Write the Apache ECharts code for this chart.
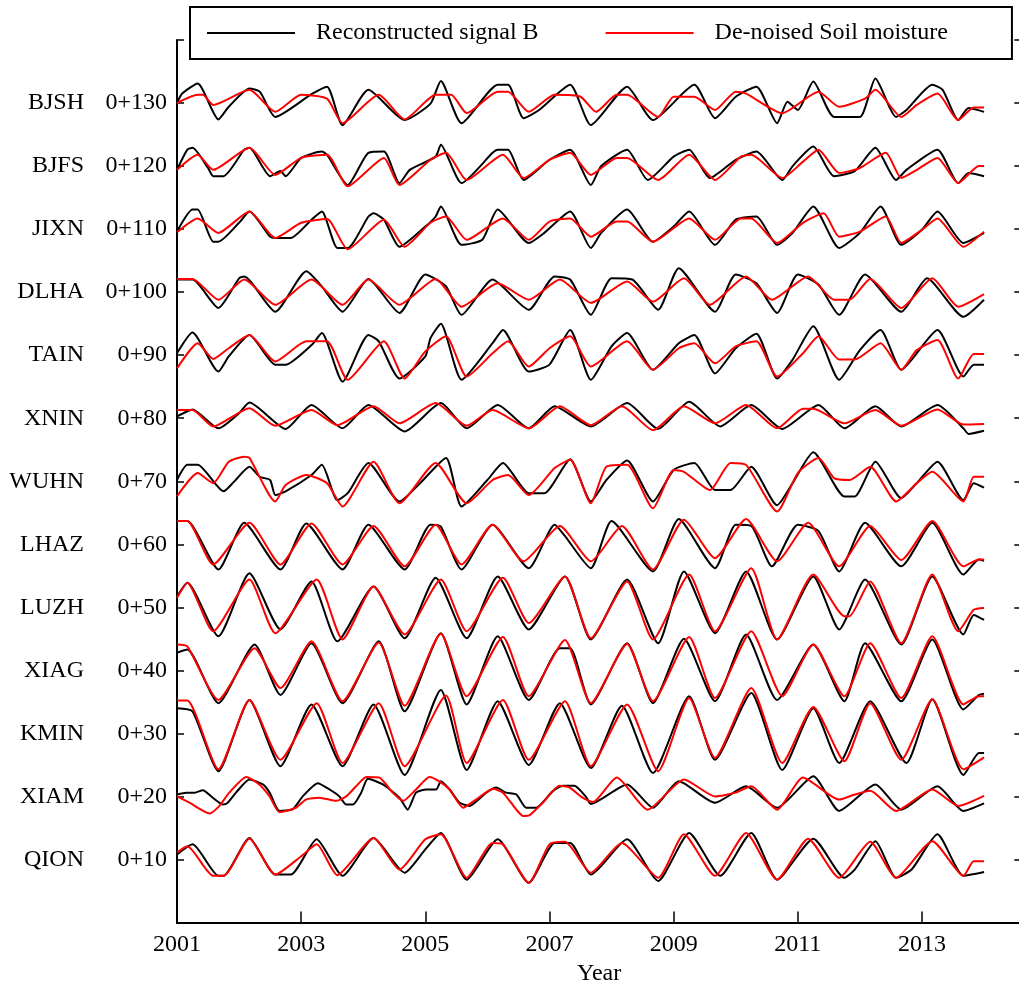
<!DOCTYPE html>
<html>
<head>
<meta charset="utf-8">
<script src="https://cdn.jsdelivr.net/npm/echarts@6/dist/echarts.min.js"></script>
<style>
  html, body { margin: 0; padding: 0; background: #fff; }
  #chart { width: 1019px; height: 984px; }
</style>
</head>
<body>
<div id="chart"></div>
<script>
// station names (top to bottom) and their vertical offsets
const stations = ['BJSH', 'BJFS', 'JIXN', 'DLHA', 'TAIN', 'XNIN', 'WUHN', 'LHAZ', 'LUZH', 'XIAG', 'KMIN', 'XIAM', 'QION'];
const offsets = [130, 120, 110, 100, 90, 80, 70, 60, 50, 40, 30, 20, 10];
const startYear = 2001;

// [month since Jan 2001, value without offset]
// B = Reconstructed signal B, R = De-noised Soil moisture
const bjshB = [[0,0],[1,1.5],[4,3.1],[8,-2.6],[10,-0.6],[14,2.3],[16,1.8],[19,-2.2],[26,1.4],[29,2.6],[32,-3.5],[37,2.1],[44,-2.7],[49,-0.1],[51,3.5],[55,-3.2],[62,2.9],[64,2.9],[67,-2.4],[70,-1.1],[76,2.9],[80,-3.5],[87,2.6],[92,-2.7],[100,2.9],[104,-2.4],[108,1.0],[112,2.6],[116,-3.2],[118,0.2],[120,-1.1],[123,3.4],[127,-2.2],[132,-2.2],[135,3.9],[139,-2.2],[141,-1.1],[146,2.9],[148,2.1],[151,-2.7],[153,-0.8],[156,-1.4]];
const bjshR = [[0,0],[4,1.3],[5,1.3],[7,-0.3],[14,2.1],[19,-1.4],[24,1.3],[29,0.7],[32,-3.2],[39,1.3],[44,-2.6],[50,1.3],[53,1.3],[56,-1.6],[62,1.8],[64,1.8],[68,-1.4],[73,1.3],[78,1.0],[81,-1.4],[85,1.3],[87,1.3],[93,-2.2],[96,1.0],[100,1.0],[104,-1.1],[108,1.8],[110,1.5],[117,-1.6],[124,1.8],[128,-0.6],[133,0.7],[135,2.1],[140,-2.2],[143,-0.3],[147,1.5],[151,-2.7],[154,-0.7],[156,-0.7]];

const bjfsB = [[0,-0.6],[2,2.6],[3,2.9],[6,-0.3],[7,-1.6],[9,-1.6],[13,2.6],[14,2.9],[18,-1.6],[20,-0.8],[21,-1.6],[24,1.3],[28,2.3],[29,1.8],[33,-3.0],[37,2.1],[40,2.3],[43,-2.7],[45,-0.6],[50,1.5],[51,3.4],[55,-2.7],[61,2.1],[62,2.6],[64,2.6],[67,-2.2],[72,1.0],[76,2.6],[80,-3.0],[82,0],[87,2.6],[91,-2.2],[96,1.5],[99,2.6],[103,-1.9],[108,1.0],[112,2.3],[117,-2.2],[119,0],[123,3.1],[127,-1.6],[131,-0.8],[135,2.9],[139,-2.2],[141,-0.6],[147,2.6],[151,-2.7],[153,-1.1],[156,-1.6]];
const bjfsR = [[0,-0.6],[4,1.8],[7,-0.6],[14,2.9],[19,-1.4],[24,1.3],[29,1.8],[33,-3.2],[40,1.3],[43,-3.0],[49,1.0],[52,2.1],[56,-2.2],[63,1.8],[67,-1.9],[72,1.0],[76,2.1],[80,-1.4],[85,1.3],[87,1.3],[93,-2.2],[99,1.8],[104,-2.2],[109,1.5],[111,1.8],[117,-1.9],[121,0.7],[124,2.6],[128,-1.1],[132,-0.3],[137,2.1],[140,-1.9],[143,-0.6],[147,1.3],[151,-2.7],[155,0],[156,0]];

const jixnB = [[0,-0.4],[3,3.1],[4,3.1],[7,-2.0],[8,-2.0],[12,1.0],[14,2.8],[18,-1.2],[19,-1.4],[22,-1.4],[26,1.5],[28,2.8],[31,-3.0],[33,-3.0],[37,2.0],[38,2.5],[40,1.5],[43,-2.8],[48,0.4],[50,2.0],[51,3.6],[55,-2.5],[59,-1.7],[62,3.1],[68,-2.2],[71,-0.6],[76,2.8],[80,-3.0],[82,-0.6],[87,3.1],[92,-2.0],[96,0.4],[99,2.8],[104,-2.5],[108,1.5],[112,2.0],[116,-2.5],[119,-0.6],[123,3.6],[128,-3.0],[132,-0.6],[136,3.6],[140,-2.5],[144,-0.1],[147,2.8],[152,-2.2],[156,-0.6]];
const jixnR = [[0,-0.5],[4,1.7],[8,-0.6],[14,2.8],[19,-1.4],[24,1.0],[29,1.6],[33,-3.2],[40,1.5],[44,-2.8],[49,1.0],[52,2.0],[56,-1.7],[63,1.7],[68,-1.7],[72,1.2],[76,1.7],[80,-1.2],[85,1.2],[87,1.2],[92,-2.0],[99,1.7],[104,-1.7],[109,1.7],[111,1.7],[116,-2.2],[121,1.0],[125,2.5],[128,-1.2],[132,-0.4],[137,2.0],[140,-2.2],[144,-0.1],[147,1.7],[152,-2.8],[156,-0.4]];

const dlhaB = [[0,2.0],[3,2.0],[8,-2.5],[12,2.2],[13,2.5],[19,-3.1],[25,3.3],[28,0.9],[32,-3.1],[37,2.1],[43,-3.3],[48,2.8],[52,0.9],[55,-3.6],[61,2.0],[68,-2.8],[73,2.5],[76,2.0],[80,-3.6],[84,2.2],[88,2.0],[93,-2.8],[97,3.8],[104,-3.1],[108,2.8],[112,1.4],[116,-3.3],[120,2.8],[124,1.2],[128,-3.6],[133,2.8],[140,-3.1],[145,2.2],[152,-3.9],[156,-1.2]];
const dlhaR = [[0,2.1],[3,2.1],[8,-1.2],[13,2.0],[19,-2.0],[26,2.0],[32,-2.0],[37,2.0],[43,-2.0],[50,2.1],[55,-2.3],[62,1.4],[68,-1.2],[74,2.0],[80,-1.7],[87,1.7],[92,-1.5],[98,2.2],[103,-2.0],[110,2.5],[115,-1.2],[122,2.5],[127,-1.2],[130,-1.2],[134,2.1],[140,-2.5],[146,2.2],[151,-2.3],[156,-0.3]];

const tainB = [[0,0.3],[3,3.6],[8,-2.6],[10,-0.2],[14,3.2],[19,-1.5],[21,-1.5],[26,1.6],[28,3.5],[32,-4.2],[37,3.2],[39,2.2],[43,-3.7],[48,-0.2],[49,2.7],[51,5.0],[55,-3.9],[61,1.9],[63,4.0],[68,-2.6],[72,-1.5],[76,4.0],[80,-3.9],[84,1.4],[87,3.5],[92,-2.3],[97,1.9],[100,3.2],[104,-2.9],[108,1.1],[112,3.4],[116,-3.7],[119,-0.7],[123,4.6],[128,-3.9],[132,0.8],[136,4.0],[140,-2.3],[147,4.0],[152,-3.4],[154,-1.5],[156,-1.5]];
const tainR = [[0,-2.1],[4,1.9],[7,-0.6],[10,1.1],[14,3.2],[19,-1.0],[25,2.2],[29,2.2],[33,-3.9],[40,2.2],[44,-3.7],[48,0.6],[52,3.0],[56,-3.4],[61,0.3],[64,2.2],[68,-1.8],[72,1.1],[76,3.0],[80,-1.8],[87,2.2],[92,-2.3],[97,1.1],[100,1.9],[104,-1.3],[108,1.4],[112,2.2],[116,-3.4],[121,0.3],[124,3.0],[128,-0.7],[131,-0.7],[136,1.9],[140,-2.3],[143,0.8],[147,2.4],[151,-3.7],[154,0.2],[156,0.2]];

const xninB = [[0,0.3],[2,1.1],[3,1.4],[8,-1.6],[12,0.8],[14,2.5],[21,-1.7],[26,2.1],[32,-1.6],[37,2.1],[44,-2.1],[51,2.4],[56,-1.6],[62,2.1],[68,-1.6],[73,1.9],[80,-1.3],[87,2.4],[93,-1.7],[99,2.6],[105,-1.3],[111,2.1],[117,-1.7],[124,2.1],[129,-1.6],[135,1.9],[140,-1.3],[147,2.1],[152,-1.6],[153,-2.5],[156,-2.0]];
const xninR = [[0,1.3],[3,1.3],[7,-1.3],[14,1.6],[19,-1.2],[26,1.3],[31,-1.1],[38,1.9],[43,-0.8],[50,2.4],[56,-1.2],[61,1.3],[68,-1.6],[74,1.9],[80,-1.1],[86,1.9],[92,-1.9],[98,1.9],[104,-0.8],[110,2.1],[116,-1.6],[121,1.5],[123,1.5],[129,-0.8],[135,1.3],[140,-1.2],[147,1.4],[152,-1.0],[156,-0.9]];

const wuhnB = [[0,0.2],[2,2.6],[4,2.6],[9,-1.6],[11,-0.1],[14,2.3],[16,0.7],[18,0.2],[19,-2.2],[21,-1.6],[26,1.0],[28,2.6],[31,-3.0],[33,-1.9],[37,2.9],[43,-3.2],[47,-0.3],[52,3.7],[55,-4.0],[60,0.2],[63,2.9],[68,-1.9],[71,-1.9],[76,3.5],[80,-3.2],[83,0.2],[87,3.3],[92,-3.2],[96,1.8],[100,2.9],[104,-1.4],[107,-1.4],[111,2.3],[116,-3.8],[119,-0.3],[123,4.6],[129,-2.4],[131,-2.4],[135,3.1],[140,-2.7],[143,-0.3],[147,3.1],[152,-3.0],[154,-0.3],[156,-1.0]];
const wuhnR = [[0,-2.4],[4,1.3],[7,-0.3],[10,3.1],[13,3.9],[14,3.7],[19,-3.2],[21,-0.6],[25,1.0],[29,-0.3],[32,-4.0],[38,3.1],[43,-3.5],[50,2.9],[56,-3.5],[61,0.2],[64,1.0],[68,-2.2],[73,2.1],[76,3.4],[80,-3.5],[83,2.3],[87,2.6],[92,-4.3],[96,1.8],[98,1.5],[103,-1.4],[107,2.9],[110,2.6],[116,-4.8],[120,1.3],[124,3.7],[127,0.5],[130,0.2],[134,2.3],[139,-3.2],[143,-0.3],[146,1.5],[152,-3.2],[154,0.7],[156,0.7]];

const lhazB = [[0,3.7],[2,3.7],[8,-4.0],[13,3.4],[20,-4.0],[25,3.3],[32,-4.0],[37,3.1],[44,-4.0],[49,3.1],[51,2.8],[55,-4.0],[61,3.1],[68,-3.8],[73,3.1],[75,1.3],[80,-3.8],[84,3.7],[92,-4.3],[97,4.0],[104,-3.8],[108,3.1],[111,2.9],[115,-3.5],[120,3.1],[124,2.1],[128,-4.3],[133,3.4],[140,-3.5],[146,3.4],[152,-4.8],[155,-2.4],[156,-2.6]];
const lhazR = [[0,3.7],[2,3.7],[7,-3.2],[14,3.4],[20,-3.2],[26,3.3],[32,-3.2],[38,2.9],[44,-3.5],[50,3.1],[55,-3.2],[61,3.1],[67,-2.7],[74,2.9],[80,-2.7],[86,2.9],[92,-4.0],[98,3.9],[104,-2.2],[110,4.0],[116,-2.7],[122,3.4],[128,-3.5],[134,2.9],[140,-2.5],[146,3.7],[152,-3.5],[155,-2.4],[156,-2.4]];

const luzhB = [[0,1.7],[2,3.9],[8,-4.6],[14,5.4],[20,-3.5],[26,4.1],[31,-5.4],[38,3.3],[44,-4.9],[50,4.7],[56,-4.9],[62,4.9],[68,-3.5],[75,4.9],[80,-5.1],[87,4.4],[93,-5.7],[98,5.7],[104,-4.1],[110,5.7],[116,-5.1],[123,4.9],[128,-3.5],[133,4.4],[140,-5.9],[146,4.9],[152,-4.3],[154,-1.2],[156,-2.0]];
const luzhR = [[0,1.5],[2,3.9],[7,-3.8],[14,4.4],[19,-4.1],[27,4.4],[32,-5.1],[38,3.3],[44,-4.3],[51,4.4],[56,-3.8],[63,4.7],[68,-2.5],[75,4.9],[80,-4.9],[87,4.1],[92,-5.1],[99,5.2],[104,-3.8],[111,6.2],[116,-5.1],[123,5.2],[129,-1.4],[130,-1.4],[134,4.1],[140,-5.7],[146,5.2],[151,-3.8],[154,-0.4],[156,-0.1]];

const xiagB = [[0,2.8],[2,3.3],[8,-5.2],[15,4.1],[20,-3.9],[26,4.3],[32,-5.2],[39,4.6],[44,-6.5],[51,5.9],[56,-5.4],[62,5.4],[68,-4.7],[74,3.5],[76,3.5],[80,-5.4],[87,4.3],[92,-5.2],[98,5.0],[104,-4.9],[110,5.7],[116,-4.7],[123,4.1],[129,-4.9],[133,4.3],[140,-4.9],[146,4.9],[152,-6.2],[155,-3.9],[156,-3.7]];
const xiagR = [[0,4.1],[2,3.8],[8,-4.7],[15,3.5],[20,-2.8],[26,4.6],[32,-4.9],[39,4.4],[44,-5.6],[51,5.8],[56,-4.1],[63,5.3],[68,-4.1],[75,4.8],[80,-5.2],[87,4.2],[92,-4.9],[99,5.3],[104,-4.4],[111,6.2],[117,-4.1],[123,4.1],[129,-4.1],[134,4.3],[140,-4.4],[146,5.4],[152,-5.4],[155,-4.1],[156,-4.1]];

const kminB = [[0,4.0],[3,3.5],[8,-6.0],[14,5.3],[20,-5.2],[26,4.6],[32,-5.2],[38,4.6],[44,-6.6],[51,6.9],[56,-5.8],[62,5.1],[68,-5.0],[74,4.8],[80,-5.5],[86,4.4],[92,-6.3],[99,5.9],[104,-4.2],[111,6.4],[117,-5.8],[123,4.0],[128,-4.7],[134,5.1],[141,-4.7],[146,5.4],[152,-6.6],[155,-3.1],[156,-3.1]];
const kminR = [[0,5.2],[2,5.2],[8,-5.7],[14,5.3],[20,-4.2],[27,4.8],[32,-4.7],[39,4.8],[44,-5.2],[52,6.0],[56,-4.7],[63,5.3],[68,-4.2],[75,5.1],[80,-5.2],[87,4.6],[93,-6.0],[99,5.6],[104,-3.9],[111,7.2],[117,-4.7],[123,4.2],[129,-4.4],[134,4.8],[140,-4.2],[146,5.4],[152,-5.7],[156,-3.8]];

const xiamB = [[0,0.3],[1.8,0.6],[3.4,0.6],[5,1.0],[6.9,-0.2],[8.9,-1.3],[9.8,-1.0],[11.4,0.6],[14,2.7],[16.6,1.9],[17.9,0.6],[19.8,-2.3],[22.4,-2.0],[24.3,0],[27.2,2.1],[29.5,1.1],[31.4,0],[32.7,-1.3],[34,-1.3],[35.6,0.6],[36.9,2.8],[39.8,1.9],[43,-0.2],[44.6,-2.1],[46.2,0.6],[48.2,1.1],[50.1,1.1],[51,2.4],[52.7,1.1],[54.6,-1.0],[56.5,-1.5],[59.8,0.6],[61.7,1.4],[63.6,0.6],[65.6,0.3],[67.5,-1.8],[69.4,-1.8],[72.6,0.8],[74.6,1.7],[76.8,1.7],[79,0],[80,-1.2],[87,1.9],[92,-1.8],[97,2.4],[104,-1.0],[110,1.6],[116,-1.8],[123,3.2],[128,-2.3],[135,1.9],[140,-2.1],[147,1.6],[152,-2.3],[156,-1.1]];
const xiamR = [[0,0],[2.4,-1.0],[6.3,-2.7],[8.2,-1.5],[10.1,0.6],[13.4,3.1],[15.9,1.9],[17.9,0],[19.8,-2.5],[23,-1.8],[24.9,-0.5],[27.5,-0.2],[30.8,-0.7],[32.7,0],[34.6,1.6],[36.6,3.1],[39.1,3.0],[41.7,0.6],[43.7,-0.7],[46.2,1.1],[48.8,3.1],[50.7,2.4],[52.7,1.1],[55.3,-1.8],[57.8,-0.5],[61.1,1.2],[63,0.6],[65.6,-2.1],[66.9,-3.1],[68.1,-3.0],[70.7,-1.0],[73.9,1.7],[75.9,1.4],[78.4,-0.2],[80.4,-0.9],[85,3.0],[91,-2.1],[98,2.7],[104,0],[108,0.6],[111,1.6],[116,-2.1],[121,3.0],[128,-0.5],[131,0.3],[134,0.9],[139,-2.3],[146,1.1],[151,-1.5],[156,0.1]];

const qionB = [[0,0.8],[3,2.4],[8,-2.6],[9,-2.6],[14,3.4],[19,-2.4],[22,-2.4],[27,3.2],[32,-2.6],[38,3.4],[44,-2.1],[48,1.6],[51,4.2],[56,-3.2],[62,3.2],[68,-3.7],[73,2.6],[76,2.6],[80,-2.4],[87,3.2],[93,-3.4],[99,4.2],[105,-2.6],[111,4.2],[116,-3.2],[123,3.3],[129,-2.9],[131,-1.6],[135,2.9],[139,-2.9],[142,-1.6],[147,4.0],[152,-2.6],[156,-2.0]];
const qionR = [[0,1.1],[2,2.1],[7,-2.6],[9,-2.6],[14,3.3],[19,-2.4],[24,0.5],[27,2.4],[31,-2.5],[38,3.4],[43,-1.6],[48,3.2],[51,4.0],[56,-2.9],[61,2.6],[63,2.4],[68,-3.7],[72,2.4],[75,2.8],[80,-2.1],[86,2.6],[93,-2.9],[98,4.0],[104,-2.6],[110,4.2],[116,-3.2],[122,3.3],[128,-2.9],[134,2.8],[139,-2.9],[146,2.9],[152,-2.6],[154,-0.3],[156,-0.3]];

const reconList = [bjshB, bjfsB, jixnB, dlhaB, tainB, xninB, wuhnB, lhazB, luzhB, xiagB, kminB, xiamB, qionB];
const denoisedList = [bjshR, bjfsR, jixnR, dlhaR, tainR, xninR, wuhnR, lhazR, luzhR, xiagR, kminR, xiamR, qionR];

const nameB = 'Reconstructed signal B';
const nameR = 'De-noised Soil moisture';
const font = 'Liberation Serif';

function toPoints(arr, off) {
  return arr.map(function (p) { return [p[0] / 12, p[1] + off]; });
}

let series = [];
stations.forEach(function (st, i) {
  series.push({
    name: nameB, type: 'line', symbol: 'none', smooth: 0.2,
    lineStyle: { color: '#000', width: 2 }, itemStyle: { color: '#000' },
    data: toPoints(reconList[i], offsets[i])
  });
});
stations.forEach(function (st, i) {
  series.push({
    name: nameR, type: 'line', symbol: 'none', smooth: 0.2,
    lineStyle: { color: '#ff0000', width: 2 }, itemStyle: { color: '#ff0000' },
    data: toPoints(denoisedList[i], offsets[i])
  });
});

const axisBlack = { color: '#000', width: 2 };

let option = {
  animation: false,
  backgroundColor: '#fff',
  textStyle: { fontFamily: font, color: '#000' },
  // plot runs a little past the right edge of the picture, as in the original
  grid: { left: 177, top: 40, width: 844.3, height: 882.5, outerBoundsMode: 'none' },
  legend: {
    data: [nameB, nameR],
    left: 190, top: 7,
    padding: [14, 64, 14, 17],
    itemGap: 67,
    icon: 'rect',
    itemWidth: 88, itemHeight: 2,
    backgroundColor: '#fff', borderColor: '#000', borderWidth: 2,
    textStyle: { fontFamily: font, fontSize: 24, color: '#000', padding: [0, 0, 0, 16] }
  },
  xAxis: [{
    type: 'value', min: 0, max: 13.6, interval: 2,
    name: 'Year', nameLocation: 'middle', nameGap: 35,
    nameTextStyle: { fontFamily: font, fontSize: 24, color: '#000' },
    axisLine: { show: true, lineStyle: axisBlack },
    axisTick: { inside: true, length: 11, lineStyle: { color: '#000', width: 1.5 } },
    splitLine: { show: false },
    axisLabel: {
      fontFamily: font, fontSize: 24, color: '#000', margin: 10,
      formatter: function (v) { return (v % 2 === 0 && v <= 12) ? String(startYear + v) : ''; }
    }
  }, {
    type: 'value', min: 0, max: 13.6, position: 'top',
    axisLine: { show: true, lineStyle: axisBlack },
    axisTick: { show: false }, axisLabel: { show: false }, splitLine: { show: false }
  }],
  yAxis: [{
    type: 'value', min: 0, max: 140, interval: 10,
    axisLine: { show: true, lineStyle: axisBlack },
    axisTick: { inside: true, length: 7, lineStyle: { color: '#000', width: 1.5 } },
    splitLine: { show: false },
    axisLabel: {
      fontFamily: font, fontSize: 24, color: '#000', margin: 10,
      formatter: function (v) { return (v >= 10 && v <= 130) ? '0+' + v : ''; }
    }
  }, {
    type: 'value', min: 0, max: 140, interval: 10, position: 'left',
    axisLine: { show: false }, axisTick: { show: false }, splitLine: { show: false },
    axisLabel: {
      fontFamily: font, fontSize: 24, color: '#000', margin: 93,
      formatter: function (v) {
        let i = offsets.indexOf(v);
        return i >= 0 ? stations[i] : '';
      }
    }
  }, {
    type: 'value', min: 0, max: 140, interval: 10, position: 'right',
    axisLine: { show: false },
    axisTick: { inside: true, length: 7, lineStyle: { color: '#000', width: 1.5 } },
    splitLine: { show: false },
    axisLabel: { show: false }
  }],
  series: series
};

let chart = echarts.init(document.getElementById('chart'));
chart.setOption(option);
</script>
</body>
</html>
